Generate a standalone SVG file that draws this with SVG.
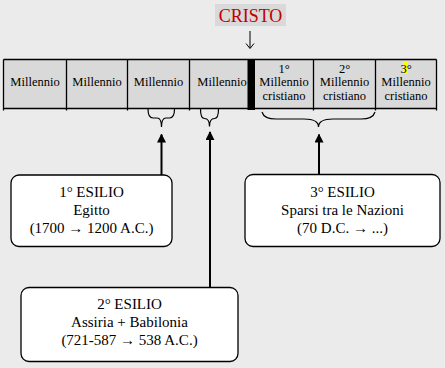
<svg xmlns="http://www.w3.org/2000/svg" width="445" height="368" viewBox="0 0 445 368">
<defs>
<style>
.t{font-family:"Liberation Serif","Times New Roman",serif;fill:#000;text-anchor:middle}
.c{font-size:12.5px}
.b{font-size:15px}
.cell{fill:#d9d9d9;stroke:none}
.ln{stroke:#000;stroke-width:1.3;fill:none}
.box{fill:#fff;stroke:#000;stroke-width:1.3}
.br{stroke:#000;stroke-width:1.2;fill:none}
.ar{stroke:#000;stroke-width:2;fill:none}
</style>
<marker id="ah" viewBox="0 0 10 10" refX="9" refY="5" markerWidth="4.5" markerHeight="4.5" orient="auto" markerUnits="strokeWidth">
<path d="M0,0 L10,5 L0,10 z" fill="#000"/>
</marker>
</defs>
<rect width="445" height="368" fill="#ebebeb"/>

<g id="cristo">
<rect x="215" y="4" width="71" height="22" fill="#d9d9d9"/>
<text x="250.5" y="21.5" class="t" style="font-size:18px;fill:#c00000">CRISTO</text>
<path d="M250,31 V48" stroke="#000" stroke-width="1"/>
<path d="M246,43.5 L250,48.5 L254,43.5" stroke="#000" stroke-width="1" fill="none"/>
</g>

<g id="timeline">
<rect class="cell" x="3.5" y="59.5" width="433" height="49"/>
<path class="ln" d="M3.5,59.5 H436.5 M3.5,108.5 H436.5 M3.5,59.5 V110.5 M66.5,59.5 V110.5 M127.5,59.5 V110.5 M189.5,59.5 V110.5 M313.5,59.5 V110.5 M375.5,59.5 V110.5 M436.5,59.5 V110.5"/>
<rect x="247.5" y="59.5" width="7.5" height="50.5" fill="#000"/>
<text class="t c" x="35" y="86">Millennio</text>
<text class="t c" x="97" y="86">Millennio</text>
<text class="t c" x="158.5" y="86">Millennio</text>
<text class="t c" x="222" y="86">Millennio</text>
<text class="t c" x="284" y="73">1°</text>
<text class="t c" x="284" y="86">Millennio</text>
<text class="t c" x="284" y="99.5">cristiano</text>
<text class="t c" x="344.5" y="73">2°</text>
<text class="t c" x="344.5" y="86">Millennio</text>
<text class="t c" x="344.5" y="99.5">cristiano</text>
<rect x="403" y="61.5" width="5" height="12.5" fill="#ffff00"/>
<text class="t c" x="406" y="73">3°</text>
<text class="t c" x="406" y="86">Millennio</text>
<text class="t c" x="406" y="99.5">cristiano</text>
</g>

<g id="braces">
<path class="br" d="M148,109 Q148,118 153,118 L157,118 Q161.5,118 161.5,127 Q161.5,118 166,118 L169.5,118 Q174.5,118 174.5,109"/>
<path class="br" d="M200.5,109 Q200.5,118.5 204.5,118.5 Q209.5,118.5 209.5,126.5 Q209.5,118.5 214.5,118.5 Q218.5,118.5 218.5,109"/>
<path class="br" d="M262,112 Q264,119 276,119 L304,119 Q318.5,119 318.5,127 Q318.5,119 333,119 L361,119 Q373,119 375,112"/>
</g>

<g id="connectors">
<path class="ar" d="M161.5,175 V134.5" marker-end="url(#ah)"/>
<path class="ar" d="M210,287 V132" marker-end="url(#ah)"/>
<path class="ar" d="M319,174 V134.5" marker-end="url(#ah)"/>
</g>

<g id="esilio1">
<rect class="box" x="11" y="175" width="161" height="71.5" rx="8"/>
<text class="t b" x="91.5" y="196.5">1° ESILIO</text>
<text class="t b" x="91.5" y="214.5">Egitto</text>
<text class="t b" x="91.5" y="232.5">(1700 → 1200 A.C.)</text>
</g>

<g id="esilio3">
<rect class="box" x="245" y="174.5" width="195" height="72" rx="8"/>
<text class="t b" x="342.5" y="196.5">3° ESILIO</text>
<text class="t b" x="342.5" y="214.5">Sparsi tra le Nazioni</text>
<text class="t b" x="342.5" y="232.5">(70 D.C. → ...)</text>
</g>

<g id="esilio2">
<rect class="box" x="21" y="287.5" width="217" height="74" rx="8"/>
<text class="t b" x="129.5" y="309">2° ESILIO</text>
<text class="t b" x="129.5" y="327">Assiria + Babilonia</text>
<text class="t b" x="129.5" y="345">(721-587 → 538 A.C.)</text>
</g>
</svg>
